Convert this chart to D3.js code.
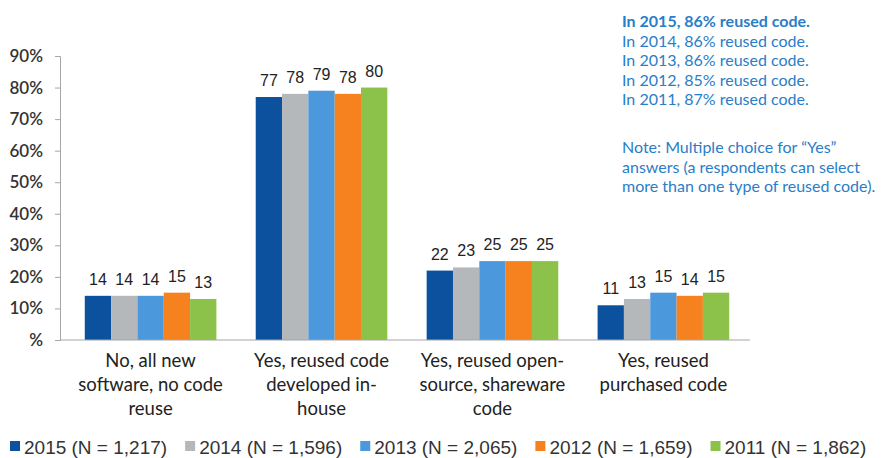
<!DOCTYPE html>
<html>
<head>
<meta charset="utf-8">
<script src="https://cdn.jsdelivr.net/npm/d3@7"></script>
<style>
  body { margin: 0; background: #fff; }
  svg { display: block; }
</style>
</head>
<body>
<div id="chart"></div>
<script>
// data
var categories = [
    ["No, all new", "software, no code", "reuse"],
    ["Yes, reused code", "developed in-", "house"],
    ["Yes, reused open-", "source, shareware", "code"],
    ["Yes, reused", "purchased code"]
];
var seriesNames = ["2015 (N = 1,217)", "2014 (N = 1,596)", "2013 (N = 2,065)", "2012 (N = 1,659)", "2011 (N = 1,862)"];
var values2015 = [14, 77, 22, 11];
var values2014 = [14, 78, 23, 13];
var values2013 = [14, 79, 25, 15];
var values2012 = [15, 78, 25, 14];
var values2011 = [13, 80, 25, 15];
var yTicks = [0, 10, 20, 30, 40, 50, 60, 70, 80, 90];
var notes = [
    "In 2015, 86% reused code.",
    "In 2014, 86% reused code.",
    "In 2013, 86% reused code.",
    "In 2012, 85% reused code.",
    "In 2011, 87% reused code."
];
var noteText = [
    "Note:  Multiple choice for \u201cYes\u201d",
    "answers (a respondents can select",
    "more than one type of reused code)."
];

function draw() {
    var colors = ["#0b519e", "#b5b8ba", "#4b98dc", "#f5821f", "#8cc24a"];
    var allValues = [values2015, values2014, values2013, values2012, values2011];

    var width = 884, height = 458;
    var plotLeft = 60, plotRight = 754, plotTop = 56, plotBottom = 340;

    var svg = d3.select("#chart").append("svg")
        .attr("width", width)
        .attr("height", height);

    var y = d3.scaleLinear().domain([0, 90]).range([plotBottom, plotTop]);
    var x = d3.scaleBand().domain(d3.range(categories.length)).range([plotLeft, plotRight])
        .paddingInner(0.23).paddingOuter(0.145);
    var xs = d3.scaleBand().domain(d3.range(seriesNames.length)).range([0, x.bandwidth()]);

    // y axis
    var yAxis = svg.append("g")
        .attr("transform", "translate(" + plotLeft + ",0)")
        .call(d3.axisLeft(y).tickValues(yTicks).tickSize(5).tickPadding(12)
            .tickFormat(function(d) { return d === 0 ? "%" : d + "%"; }));
    yAxis.select(".domain").attr("stroke", "#a6a6a6");
    yAxis.selectAll(".tick line").attr("stroke", "#a6a6a6");
    yAxis.selectAll("text")
        .attr("fill", "#333")
        .style("font-family", "Lato, 'Open Sans', sans-serif")
        .style("font-size", "17px")
        .style("font-weight", "600");

    // bars
    allValues.forEach(function(vals, s) {
        svg.append("g").selectAll("rect").data(vals).enter().append("rect")
            .attr("x", function(d, i) { return x(i) + xs(s); })
            .attr("y", function(d) { return y(d); })
            .attr("width", xs.bandwidth())
            .attr("height", function(d) { return plotBottom - y(d); })
            .attr("fill", colors[s]);
        svg.append("g").selectAll("text").data(vals).enter().append("text")
            .attr("x", function(d, i) { return x(i) + xs(s) + xs.bandwidth() / 2; })
            .attr("y", function(d) { return y(d) - 11; })
            .attr("text-anchor", "middle")
            .attr("fill", "#222")
            .style("font-family", "'Liberation Sans', Arial, sans-serif")
            .style("font-size", "16px")
            .text(function(d) { return d; });
    });

    // baseline
    svg.append("line")
        .attr("x1", plotLeft).attr("x2", plotRight - 4)
        .attr("y1", plotBottom).attr("y2", plotBottom)
        .attr("stroke", "#a6a6a6");

    // category labels
    categories.forEach(function(lines, i) {
        var t = svg.append("text")
            .attr("text-anchor", "middle")
            .attr("fill", "#222")
            .style("font-family", "Lato, 'Open Sans', sans-serif")
            .style("font-size", "18.5px");
        lines.forEach(function(line, k) {
            t.append("tspan")
                .attr("x", x(i) + x.bandwidth() / 2)
                .attr("y", plotBottom + 27 + k * 24)
                .text(line);
        });
    });

    // legend
    var lx = 10;
    seriesNames.forEach(function(name, s) {
        svg.append("rect")
            .attr("x", lx).attr("y", 441)
            .attr("width", 10).attr("height", 10)
            .attr("fill", colors[s]);
        var t = svg.append("text")
            .attr("x", lx + 14).attr("y", 454)
            .attr("fill", "#333")
            .style("font-family", "'Liberation Sans', Arial, sans-serif")
            .style("font-size", "19px")
            .text(name);
        lx += t.node().getComputedTextLength() + 32;
    });

    // annotation
    notes.forEach(function(n, i) {
        svg.append("text")
            .attr("x", 622).attr("y", 27 + i * 19.5)
            .attr("fill", "#2a7dc8")
            .style("font-family", "Lato, 'Open Sans', sans-serif")
            .style("font-size", "16px")
            .style("font-weight", i === 0 ? "700" : "400")
            .text(n);
    });
    noteText.forEach(function(n, i) {
        svg.append("text")
            .attr("x", 622).attr("y", 153 + i * 19.5)
            .attr("fill", "#2a7dc8")
            .style("font-family", "Lato, 'Open Sans', sans-serif")
            .style("font-size", "16px")
            .text(n);
    });
}

draw();
</script>
</body>
</html>
